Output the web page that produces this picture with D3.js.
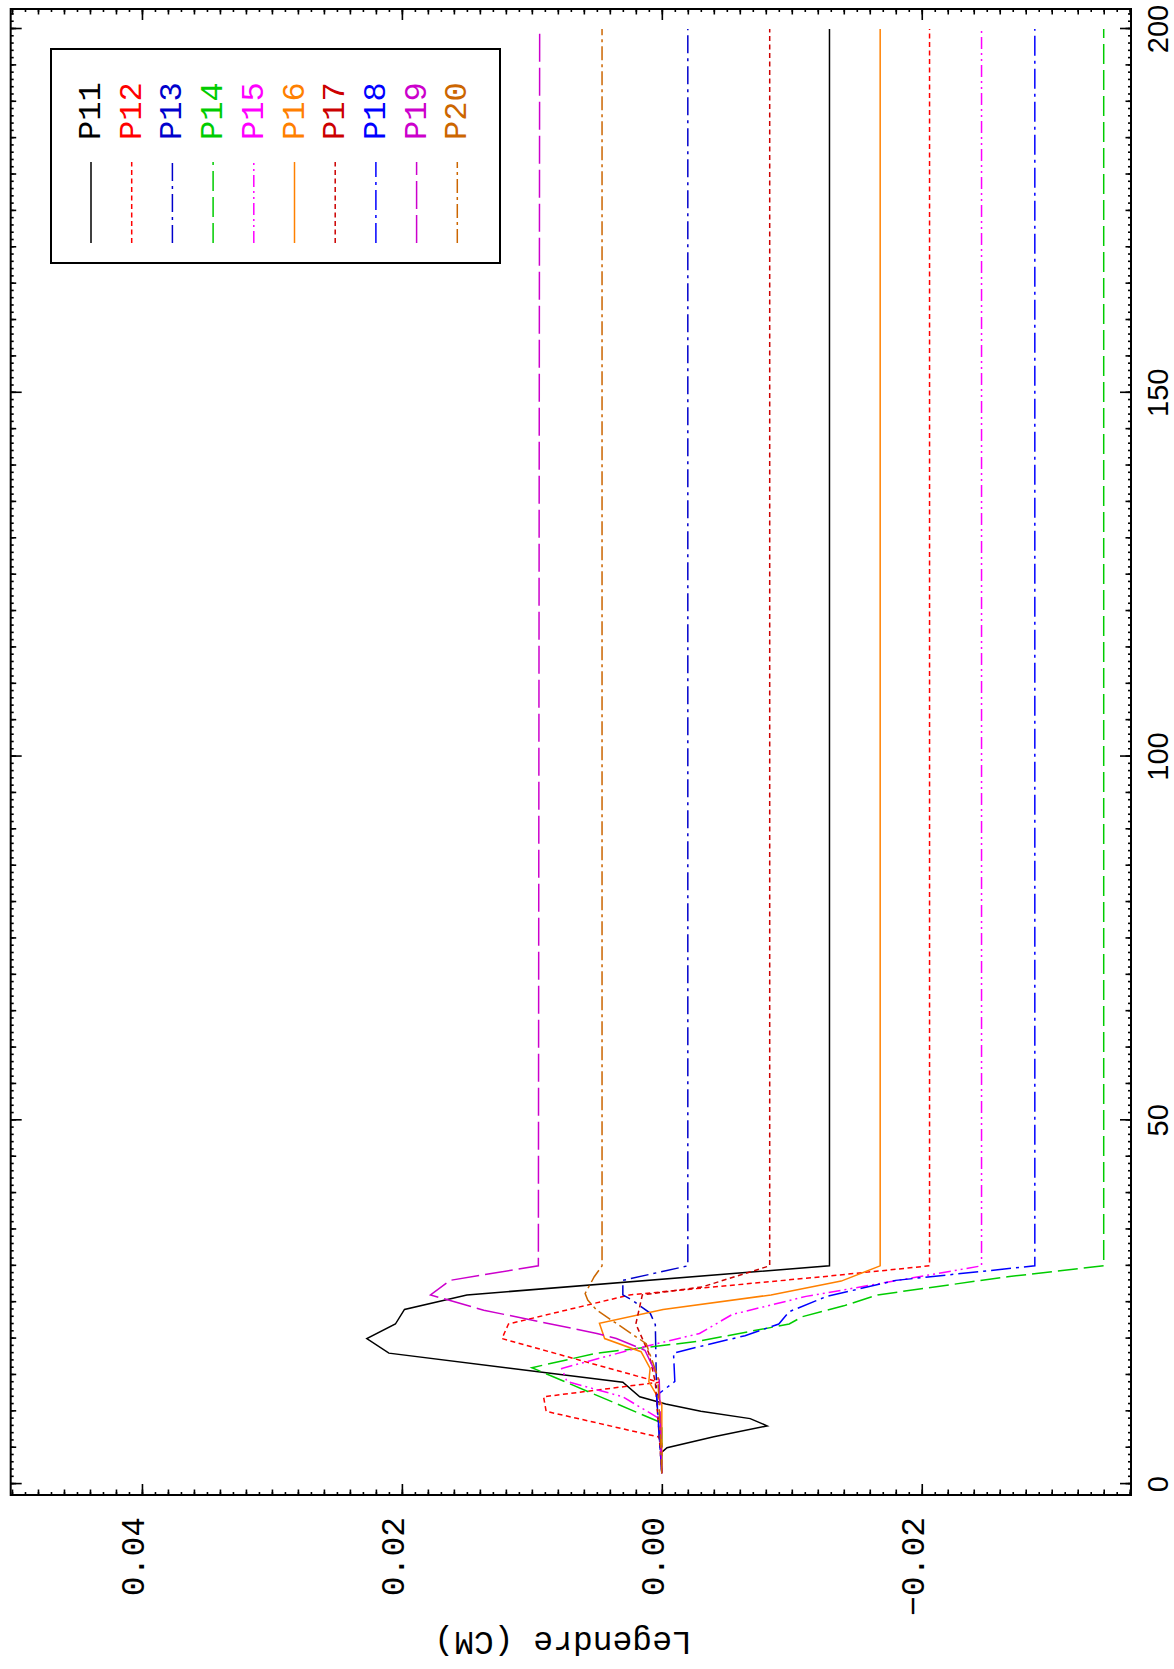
<!DOCTYPE html>
<html><head><meta charset="utf-8">
<script src="https://cdn.jsdelivr.net/npm/d3@7"></script>
<style>body{margin:0;background:#fff}svg{display:block}</style>
</head><body>
<svg id="c" width="1174" height="1669"></svg>
<script>
// ---- data ----
const seriesNames = ["P11","P12","P13","P14","P15","P16","P17","P18","P19","P20"];
const seriesColors = ["#000000","#ff0000","#0000cc","#00cc00","#ff00ff","#ff8000","#cc0000","#0000ff","#cc00cc","#cc6600"];
const seriesDash = ["none","5,3.5","18,5,3,5","20,6","12,4,2,4,2,4","none","5,3.5","20,5,3,5","28,6","14,4,3,4"];
// [x, value] pairs
const p11 = [[4.4,0],[5,-0.0004],[6.5,-0.004],[8,-0.0081],[9,-0.0068],[10,-0.003],[11,-0.0003],[12,0.0017],[14,0.003],[18,0.021],[20,0.0227],[22,0.0205],[24,0.0198],[26,0.015],[30,-0.0129],[200,-0.0129]];
const p12 = [[1.5,0],[6,0],[6.5,0.0003],[10,0.0089],[12,0.0091],[14,0.0002],[20,0.0123],[22,0.0118],[26,0.0025],[28.6,-0.0129],[30,-0.0206],[200,-0.0206]];
const p13 = [[1.5,0],[12,0.0004],[21.9,0.0005],[23.5,0.0009],[25.3,0.0023],[26,0.003],[28,0.003],[30,-0.002],[200,-0.002]];
const p14 = [[1.5,0],[8.4,0],[16,0.0100],[18,0.005],[19.6,-0.0027],[22,-0.0098],[23,-0.0108],[24.5,-0.014],[26,-0.0166],[28.5,-0.0266],[30,-0.034],[200,-0.034]];
const p15 = [[1.5,0],[9,0.0002],[12,0.003],[14.1,0.0073],[15.9,0.0077],[18.4,0.0025],[20.7,-0.0029],[23.3,-0.0054],[25.8,-0.0111],[30,-0.0246],[200,-0.0246]];
const p16 = [[1.5,0],[11,0],[14.1,0.001],[15.9,0.0009],[18.2,0.0016],[20,0.0044],[22.1,0.0048],[24,-0.0001],[26,-0.0084],[27.9,-0.0138],[30,-0.0168],[200,-0.0168]];
const p17 = [[1.5,0],[14,0.0005],[18,0.001],[22,0.002],[26,0.0015],[27.1,-0.0031],[30,-0.0083],[200,-0.0083]];
const p18 = [[1.5,0],[12.2,0.0004],[14.1,-0.001],[18,-0.0009],[18.9,-0.0029],[20.4,-0.0064],[22,-0.009],[23.7,-0.0098],[25.8,-0.0127],[28,-0.018],[30,-0.0287],[200,-0.0287]];
const p19 = [[1.5,0],[14.3,0.0002],[18.4,0.0013],[20,0.0035],[20.7,0.005],[23.9,0.0137],[26,0.0178],[28,0.0163],[30,0.0095],[200,0.0094]];
const p20 = [[1.5,0],[14.7,0.0003],[19.3,0.0012],[23.9,0.005],[25.3,0.0057],[26.2,0.0059],[28.5,0.0052],[30,0.0046],[200,0.0046]];
const seriesData = [p11,p12,p13,p14,p15,p16,p17,p18,p19,p20];
const xTickValues = [0,50,100,150,200];
const xTickLabels = ["0","50","100","150","200"];
const yTickValues = [0.04,0.02,0,-0.02];
const yTickLabels = ["0.04","0.02","0.00","\u22120.02"];
const yTitle = "Legendre (CM)";
const xDomain = [-1.5, 202.75];
const yDomain = [-0.0361, 0.0501];

// ---- drawing (in the plot's own landscape frame, then rotated onto the page) ----
const W = 1174, H = 1669;
const svg = d3.select("#c");
const g = svg.append("g").attr("transform", `translate(0,${H}) rotate(-90)`);
const uL = 174, uR = 1660, vT = 10.7, vB = 1131;
const x = d3.scaleLinear().domain(xDomain).range([uL, uR]);
const y = d3.scaleLinear().domain(yDomain).range([vB, vT]);

function tickAxis(gen, values, len) {
  return gen.tickValues(values).tickSizeInner(-len).tickSizeOuter(0).tickFormat("");
}
const xr = (a,b,s) => d3.range(a, b + 1e-9, s);
const xMinor = xr(0, 202, 1), xMid = xr(0, 200, 5), xMaj = xTickValues;
const yMinor = xr(-36, 50, 1).map(d => d / 1000), yMid = xr(-36, 50, 2).map(d => d / 1000), yMaj = yTickValues;

const axesG = g.append("g").attr("class","axes");
[[xMinor,3],[xMid,5.5],[xMaj,11]].forEach(([vals,len]) => {
  axesG.append("g").attr("transform",`translate(0,${vB})`).call(tickAxis(d3.axisBottom(x), vals, len));
  axesG.append("g").attr("transform",`translate(0,${vT})`).call(tickAxis(d3.axisTop(x), vals, len));
});
[[yMinor,3],[yMid,5.5],[yMaj,11]].forEach(([vals,len]) => {
  axesG.append("g").attr("transform",`translate(${uL},0)`).call(tickAxis(d3.axisLeft(y), vals, len));
  axesG.append("g").attr("transform",`translate(${uR},0)`).call(tickAxis(d3.axisRight(y), vals, len));
});
axesG.selectAll(".domain").remove();
axesG.selectAll(".tick line").attr("stroke","#000").attr("stroke-width",1.6);

// frame
g.append("rect").attr("x",uL).attr("y",vT).attr("width",uR-uL).attr("height",vB-vT)
  .attr("fill","none").attr("stroke","#000").attr("stroke-width",2);

// x tick labels
g.append("g").selectAll("text").data(xTickValues).join("text")
  .attr("x", d => x(d)).attr("y", vB + 37)
  .attr("text-anchor","middle")
  .attr("font-family","Liberation Sans, Arial, sans-serif").attr("font-size",29)
  .text((d,i) => xTickLabels[i]);

// y tick labels
g.append("g").selectAll("text").data(yTickValues).join("text")
  .attr("x", uL - 22).attr("y", d => y(d) + 2)
  .attr("text-anchor","end")
  .attr("font-family","Liberation Mono, Courier New, monospace").attr("font-size",33)
  .text((d,i) => yTickLabels[i]);

// y title
g.append("text").attr("transform",`translate(37,563) rotate(-90)`)
  .attr("text-anchor","middle")
  .attr("font-family","Liberation Mono, Courier New, monospace").attr("font-size",33)
  .text(yTitle);

// data lines
const line = d3.line().x(d => x(d[0])).y(d => y(d[1]));
g.append("clipPath").attr("id","pc").append("rect")
  .attr("x",uL).attr("y",vT).attr("width",uR-uL).attr("height",vB-vT);
g.append("g").attr("clip-path","url(#pc)").selectAll("path").data(seriesData).join("path")
  .attr("d", line).attr("fill","none")
  .attr("stroke",(d,i)=>seriesColors[i])
  .attr("stroke-width",1.5)
  .attr("stroke-dasharray",(d,i)=>seriesDash[i]);

// legend
const lg = g.append("g");
lg.append("rect").attr("x",1406).attr("y",51).attr("width",214).attr("height",449)
  .attr("fill","#fff").attr("stroke","#000").attr("stroke-width",2);
const entry = lg.selectAll("g.e").data(seriesNames).join("g").attr("class","e")
  .attr("transform",(d,i)=>`translate(0,${88 + 40.7*i})`);
entry.append("line").attr("x1",1426).attr("x2",1507).attr("y1",3).attr("y2",3)
  .attr("stroke",(d,i)=>seriesColors[i]).attr("stroke-width",1.5)
  .attr("stroke-dasharray",(d,i)=>seriesDash[i]);
entry.append("text").attr("x",1529).attr("y",12)
  .attr("font-family","Liberation Mono, Courier New, monospace").attr("font-size",32)
  .attr("fill",(d,i)=>seriesColors[i]).text(d=>d);
</script>
</body></html>
